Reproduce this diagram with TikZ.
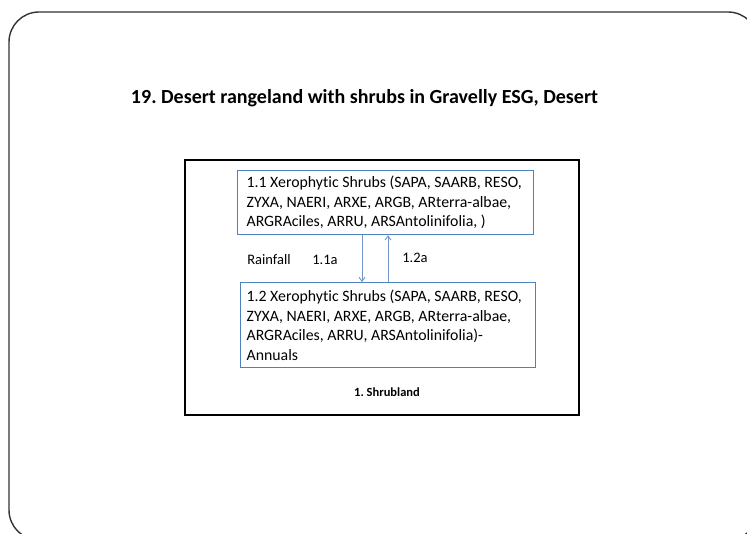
\documentclass[tikz,border=0pt]{standalone}
\usepackage{fontspec}
\setmainfont{Carlito}[Ligatures=NoCommon]
\usetikzlibrary{arrows.meta}
\definecolor{boxblue}{RGB}{79,129,189}
\definecolor{arrowblue}{RGB}{110,150,205}
\frenchspacing
\begin{document}
\begin{tikzpicture}[x=1pt,y=-1pt,
  statebox/.style={draw=boxblue,line width=1.3pt,anchor=north west,align=flush left,inner ysep=3pt,font=\fontsize{15.8}{19.6}\selectfont},
  trans/.style={draw=arrowblue,line width=0.9pt,-{Straight Barb[length=4pt,width=6pt]}},
  lbl/.style={inner sep=0pt,font=\fontsize{14.5}{16}\selectfont}]
\useasboundingbox (0,0) rectangle (747,534);
\clip (0,0) rectangle (747,534);
\draw[black!80,line width=1.4pt,rounded corners=30pt] (9,12) rectangle (758,540);
\node[font=\bfseries\fontsize{20}{24}\selectfont] (title) at (364.5,98) {19. Desert rangeland with shrubs in Gravelly ESG, Desert};
\draw[line width=1.6pt] (185,160) rectangle (579,415);
\node[statebox,inner xsep=9pt,text width=278pt,minimum height=64pt] (s11) at (237,170) {1.1 Xerophytic Shrubs (SAPA, SAARB, RESO,\\ZYXA, NAERI, ARXE, ARGB, ARterra-albae,\\ARGRAciles, ARRU, ARSAntolinifolia, )};
\node[statebox,inner xsep=6pt,text width=283pt,minimum height=85pt] (s12) at (240,282) {1.2 Xerophytic Shrubs (SAPA, SAARB, RESO,\\ZYXA, NAERI, ARXE, ARGB, ARterra-albae,\\ARGRAciles, ARRU, ARSAntolinifolia)-\\Annuals};
\coordinate (dx) at (362,0);
\coordinate (ux) at (388,0);
\draw[trans] (s11.south -| dx) -- (s12.north -| dx);
\draw[trans] (s12.north -| ux) -- (s11.south -| ux);
\node[lbl] (rain) at (269,260) {Rainfall};
\node[lbl] (t11) at (325,260) {1.1a};
\node[lbl] (t12) at (415,258) {1.2a};
\node[font=\bfseries\fontsize{12.5}{14}\selectfont] (sys) at (387,392) {1. Shrubland};
\end{tikzpicture}
\end{document}
